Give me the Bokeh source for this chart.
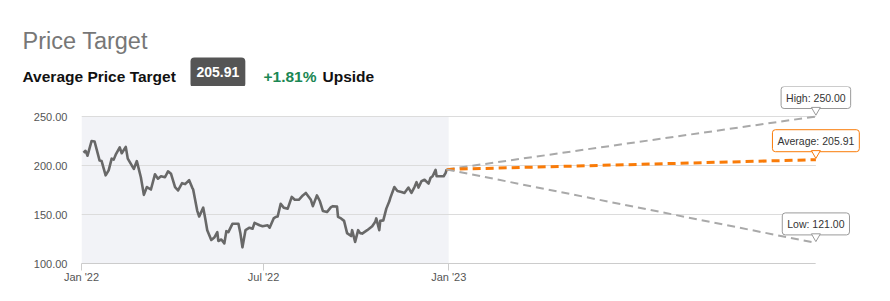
import pandas as pd
from bokeh.plotting import figure
from bokeh.layouts import column
from bokeh.models import Range1d, FixedTicker, NumeralTickFormatter, Label
from bokeh.embed import file_html
from bokeh.resources import INLINE

# ---------------- data ----------------
title_text = "Price Target"
subtitle_text = "Average Price Target"
badge_text = "205.91"
upside_pct_text = "+1.81%"
upside_word_text = "Upside"

price_dates = [
    "2022-01-03", "2022-01-05", "2022-01-07", "2022-01-11", "2022-01-14", "2022-01-19",
    "2022-01-21", "2022-01-25", "2022-01-28", "2022-01-31", "2022-02-02", "2022-02-04",
    "2022-02-08", "2022-02-10", "2022-02-14", "2022-02-16", "2022-02-22", "2022-02-25",
    "2022-03-01", "2022-03-04", "2022-03-07", "2022-03-11", "2022-03-15", "2022-03-18",
    "2022-03-21", "2022-03-25", "2022-03-28", "2022-03-31", "2022-04-04", "2022-04-07",
    "2022-04-11", "2022-04-14", "2022-04-18", "2022-04-21", "2022-04-22", "2022-04-26",
    "2022-04-28", "2022-05-02", "2022-05-04", "2022-05-06", "2022-05-10", "2022-05-13",
    "2022-05-16", "2022-05-17", "2022-05-20", "2022-05-23", "2022-05-25", "2022-05-27",
    "2022-05-31", "2022-06-06", "2022-06-08", "2022-06-10", "2022-06-13", "2022-06-17",
    "2022-06-20", "2022-06-22", "2022-06-27", "2022-06-30", "2022-07-05", "2022-07-07",
    "2022-07-11", "2022-07-13", "2022-07-15", "2022-07-18", "2022-07-21", "2022-07-25",
    "2022-07-29", "2022-08-01", "2022-08-05", "2022-08-09", "2022-08-12", "2022-08-17",
    "2022-08-19", "2022-08-23", "2022-08-26", "2022-08-29", "2022-09-02", "2022-09-06",
    "2022-09-08", "2022-09-12", "2022-09-13", "2022-09-16", "2022-09-19", "2022-09-22",
    "2022-09-26", "2022-09-27", "2022-09-30", "2022-10-03", "2022-10-05", "2022-10-07",
    "2022-10-12", "2022-10-17", "2022-10-20", "2022-10-21", "2022-10-24", "2022-10-25",
    "2022-10-28", "2022-10-31", "2022-11-03", "2022-11-04", "2022-11-08", "2022-11-11",
    "2022-11-15", "2022-11-18", "2022-11-22", "2022-11-25", "2022-11-28", "2022-11-30",
    "2022-12-02", "2022-12-05", "2022-12-08", "2022-12-12", "2022-12-14", "2022-12-16",
    "2022-12-19", "2022-12-20", "2022-12-27", "2022-12-29", "2022-12-30",
]
price_values = [
    213, 215, 210, 225, 224.5, 205,
    204.5, 190, 195, 207, 206, 211,
    218.5, 212.5, 219, 207, 196.5, 204.5,
    188, 170, 178, 175.5, 191, 186.5,
    189, 188, 194, 191.5, 178, 174.5,
    182, 181, 185, 177.5, 175.5, 154,
    148, 157, 146, 134, 124, 126.5,
    132, 123, 124.5, 120.5, 133, 132,
    140.5, 140.5, 130.5, 116.5, 134, 136.5,
    135.5, 141.5, 139, 138, 139, 136.5,
    146, 147.5, 148, 161, 157, 156,
    168, 165, 165, 169.5, 172, 165,
    158.5, 169.5, 163.5, 153.5, 152.5, 157.5,
    158.5, 158, 147.5, 146, 143.5, 131,
    128, 134, 122, 134, 131, 130.5,
    134, 138, 142.5, 146, 134, 143.5,
    144, 156, 163.5, 167, 178, 174,
    173, 172, 177.5, 172, 178, 183,
    177.5, 184, 185.5, 181.5, 187.5, 189,
    195.5, 189, 189, 192.5, 196,
]

history_start = "2022-01-01"
history_end = "2023-01-01"
target_date = "2024-01-01"
target_names = ["High", "Average", "Low"]
target_values = [250.00, 205.91, 121.00]

y_ticks = [100, 150, 200, 250]
x_tick_dates = ["2022-01-01", "2022-07-01", "2023-01-01"]
x_tick_labels = ["Jan '22", "Jul '22", "Jan '23"]

# ---------------- layout / style ----------------
FONT = "Liberation Sans"
W, H = 890, 301
HEADER_H = 86
CH = H - HEADER_H                        # chart figure height
FL, FR, FT, FB = 81, 20, 0, 38           # borders around the chart frame
frame_w = W - FL - FR
frame_h = CH - FT - FB
px_per_unit = 0.98
px_per_day = 1.006

GRAY_LINE = "#686868"
GRID = "#dcdcdc"
SHADE = "#f2f3f7"
DASH_GRAY = "#a9a9a9"
ORANGE = "#f97b08"
GREEN = "#1b8754"

dates = pd.to_datetime(price_dates)
x0 = pd.Timestamp(history_start)
x_end = x0 + pd.Timedelta(days=frame_w / px_per_day)
t_date = pd.Timestamp(target_date)
y0 = min(y_ticks)
y_end = y0 + frame_h / px_per_unit


def ms(ts):
    return pd.Timestamp(ts).value / 1e6


# ---------------- header figure (pixel coordinates) ----------------
hd = figure(width=W, height=HEADER_H, x_range=Range1d(0, W), y_range=Range1d(HEADER_H, 0),
            output_backend="svg", toolbar_location=None,
            x_axis_location=None, y_axis_location=None,
            min_border_left=0, min_border_right=0, min_border_top=0, min_border_bottom=0)
hd.frame_align = False
hd.outline_line_color = None
hd.grid.visible = False
hd.background_fill_color = "white"
hd.border_fill_color = "white"

hd.add_layout(Label(x=22, y=40, text=title_text, text_font=FONT, text_font_size="23.5px",
                    text_color="#777777", text_baseline="alphabetic"))
hd.add_layout(Label(x=22, y=76, text=subtitle_text, text_font=FONT, text_font_size="15.5px",
                    text_font_style="bold", text_color="#111111", text_baseline="alphabetic"))
hd.add_layout(Label(x=190, y=57, text=badge_text, text_font=FONT, text_font_size="14px",
                    text_font_style="bold", text_color="white", text_baseline="top",
                    background_fill_color="#555555", border_line_color=None,
                    padding=dict(left=6, right=6, top=9, bottom=11), border_radius=4))
hd.add_layout(Label(x=263, y=76, text=upside_pct_text, text_font=FONT, text_font_size="15.5px",
                    text_font_style="bold", text_color=GREEN, text_baseline="alphabetic"))
hd.add_layout(Label(x=322, y=76, text=upside_word_text, text_font=FONT, text_font_size="15.5px",
                    text_font_style="bold", text_color="#111111", text_baseline="alphabetic"))

# ---------------- chart figure ----------------
p = figure(width=W, height=CH, x_axis_type="datetime",
           x_range=Range1d(x0, x_end), y_range=Range1d(y0, y_end),
           output_backend="svg", toolbar_location=None,
           min_border_left=FL, min_border_right=FR,
           min_border_top=FT, min_border_bottom=FB)
p.frame_align = False
p.outline_line_color = None
p.xgrid.visible = False
p.ygrid.visible = False
p.background_fill_color = "white"
p.border_fill_color = "white"

# shaded history area
p.quad(left=[pd.Timestamp(history_start)], right=[pd.Timestamp(history_end)],
       bottom=[min(y_ticks)], top=[max(y_ticks)], fill_color=SHADE, line_color=None)

# horizontal grid lines up to the target date
p.segment(x0=[x0] * len(y_ticks), y0=y_ticks, x1=[t_date] * len(y_ticks), y1=y_ticks,
          line_color=GRID, line_width=1)

# price history
p.line(dates, price_values, line_color=GRAY_LINE, line_width=2.6, line_join="round")

# projections
last_d, last_v = dates[-1], price_values[-1]
for name, val in zip(target_names, target_values):
    is_avg = name == "Average"
    p.line([last_d, t_date], [last_v, val],
           line_color=ORANGE if is_avg else DASH_GRAY,
           line_width=3 if is_avg else 2, line_dash="8 5")

# callouts
for name, val in zip(target_names, target_values):
    is_avg = name == "Average"
    bc = ORANGE if is_avg else "#9a9a9a"
    p.scatter([t_date], [val + 6.5 / px_per_unit], marker="inverted_triangle", size=9,
              fill_color="white", line_color=bc, line_width=1, level="overlay")
    lab = Label(x=ms(t_date), y=val, text=f"{name}: {val:.2f}",
                text_align="center", text_baseline="middle", y_offset=19,
                text_font=FONT, text_font_size="10.5px", text_color="#333333",
                background_fill_color="white", border_line_color=bc, border_line_width=1,
                padding=dict(left=5, right=5, top=5, bottom=5), border_radius=3)
    p.add_layout(lab)

# axes
xa = p.xaxis[0]
xa.ticker = FixedTicker(ticks=[ms(d) for d in x_tick_dates])
xa.major_label_overrides = {ms(d): l for d, l in zip(x_tick_dates, x_tick_labels)}
xa.bounds = (ms(x0), ms(t_date))
xa.axis_line_color = "#cccccc"
xa.major_tick_line_color = "#cccccc"
xa.major_tick_out = 7
xa.major_tick_in = 0
xa.minor_tick_line_color = None
xa.major_label_standoff = 0
xa.major_label_text_font = FONT
xa.major_label_text_font_size = "11px"
xa.major_label_text_color = "#555555"

ya = p.yaxis[0]
ya.ticker = FixedTicker(ticks=y_ticks)
ya.formatter = NumeralTickFormatter(format="0.00")
ya.axis_line_color = None
ya.major_tick_line_color = None
ya.major_tick_out = 0
ya.major_tick_in = 0
ya.minor_tick_line_color = None
ya.major_label_standoff = 14
ya.major_label_text_font = FONT
ya.major_label_text_font_size = "11px"
ya.major_label_text_color = "#555555"

layout = column(hd, p, spacing=0)
open("out.html", "w").write(file_html(layout, INLINE))
